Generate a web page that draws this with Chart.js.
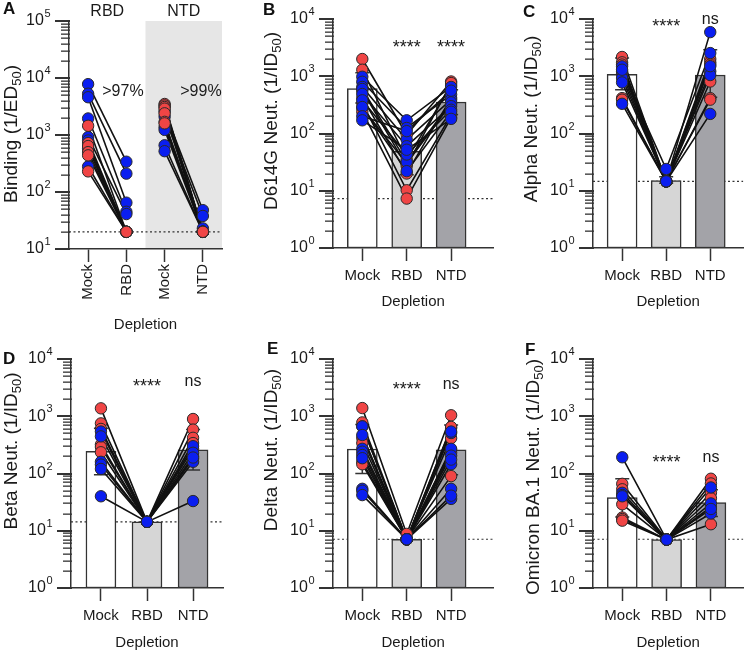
<!DOCTYPE html>
<html>
<head>
<meta charset="utf-8">
<script src="https://cdn.jsdelivr.net/npm/chart.js@4.4.1/dist/chart.umd.min.js"></script>
<style>
  body { margin: 0; background: #fff; }
  #figure { position: relative; width: 750px; height: 653px; overflow: hidden; font-family: "Liberation Sans", Arial, sans-serif; }
  #figure canvas { position: absolute; }
  .letter { position: absolute; font-weight: bold; font-size: 17px; line-height: 1; color: #111; }
</style>
</head>
<body>
<div id="figure">
  <canvas id="chart-a" width="250" height="345" style="left:0;top:0"></canvas>
  <canvas id="chart-b" width="250" height="330" style="left:250px;top:0"></canvas>
  <canvas id="chart-c" width="250" height="330" style="left:500px;top:0"></canvas>
  <canvas id="chart-d" width="250" height="323" style="left:0;top:330px"></canvas>
  <canvas id="chart-e" width="250" height="323" style="left:250px;top:330px"></canvas>
  <canvas id="chart-f" width="250" height="323" style="left:500px;top:330px"></canvas>
  <div class="letter" style="left:3px;top:0">A</div>
  <div class="letter" style="left:263px;top:1px">B</div>
  <div class="letter" style="left:523px;top:3px">C</div>
  <div class="letter" style="left:3px;top:350px">D</div>
  <div class="letter" style="left:267px;top:340px">E</div>
  <div class="letter" style="left:525px;top:341px">F</div>
</div>
<script>
// ---- data ----
// A: binding titers, mock vs depleted, two depletion experiments
const aCategories = ['Mock', 'RBD', 'Mock', 'NTD'];
const aRbdMock = [7800, 5300, 4600, 1950, 1450, 920, 800, 720, 640, 580, 500, 440, 280, 230];
const aRbdDepleted = [340, 210, 65, 45, 20, 41, 20, 20, 20, 20, 20, 20, 20, 20];
const aRbdGroup = ['b', 'b', 'b', 'b', 'r', 'b', 'b', 'r', 'r', 'b', 'r', 'r', 'b', 'r'];
const aNtdMock = [3500, 3300, 3100, 2900, 2600, 2400, 2100, 1700, 1600, 1370, 1230, 660, 520];
const aNtdDepleted = [20, 20, 20, 20, 48, 20, 38, 20, 20, 23, 20, 20, 20];
const aNtdGroup = ['r', 'r', 'r', 'r', 'b', 'r', 'b', 'r', 'r', 'b', 'b', 'b', 'b'];
const aLimit = 20;

const neutCategories = ['Mock', 'RBD', 'NTD'];

// B: D614G
const bMock = [2000, 1300, 980, 800, 650, 600, 560, 490, 420, 380, 340, 290, 280, 240, 200, 170];
const bRbd = [95, 35, 170, 125, 78, 32, 27, 60, 20, 43, 10.2, 22, 30, 7.3, 110, 52];
const bNtd = [810, 700, 650, 480, 390, 350, 760, 300, 420, 260, 210, 240, 330, 190, 560, 180];
const bGroup = ['r', 'r', 'b', 'b', 'b', 'b', 'r', 'b', 'r', 'b', 'r', 'b', 'r', 'r', 'b', 'b'];
const bMean = [610, 49, 355];
const bLow = [340, 19, 215];
const bHigh = [1150, 100, 580];
const bLimit = 7.3;

// C: Alpha
const cMock = [2170, 1750, 1600, 1100, 415, 390, 1490, 1220, 930, 780, 330, 1300];
const cRbd = [14.6, 14.6, 14.6, 14.6, 14.6, 14.6, 14.6, 24, 14.6, 14.6, 14.6, 14.6];
const cNtd = [2000, 1750, 1600, 810, 415, 390, 5900, 2540, 1220, 1050, 220, 1500];
const cGroup = ['r', 'r', 'r', 'r', 'r', 'r', 'b', 'b', 'b', 'b', 'b', 'b'];
const cMean = [1080, 15, 1050];
const cLow = [580, 13.5, 430];
const cHigh = [2080, 17.5, 2900];
const cLimit = 14.6;

// D: Beta
const dMock = [1375, 750, 600, 320, 290, 235, 540, 445, 160, 143, 120, 40];
const dRbd = [14.3, 14.3, 14.3, 14.3, 14.3, 14.3, 14.3, 14.3, 14.3, 14.3, 14.3, 14.3];
const dNtd = [895, 585, 270, 420, 340, 180, 300, 200, 160, 230, 190, 33];
const dGroup = ['r', 'r', 'r', 'r', 'r', 'r', 'b', 'b', 'b', 'b', 'b', 'b'];
const dMean = [245, 14.3, 258];
const dLow = [95, 14.3, 115];
const dHigh = [615, 14.3, 585];
const dLimit = 14.3;

// E: Delta
const eMock = [1390, 780, 665, 415, 340, 160, 145, 665, 470, 270, 240, 210, 185, 54, 50, 42];
const eRbd = [8.8, 7.1, 7.1, 7.1, 7.1, 7.1, 7.1, 7.1, 7.1, 7.1, 7.1, 7.1, 7.1, 7.1, 7.1, 7.1];
const eNtd = [1040, 620, 415, 650, 255, 230, 90, 510, 540, 270, 145, 205, 175, 54, 36, 41];
const eGroup = ['r', 'r', 'r', 'r', 'r', 'r', 'r', 'b', 'b', 'b', 'b', 'b', 'b', 'b', 'b', 'b'];
const eMean = [268, 7.1, 258];
const eLow = [100, 7.1, 95];
const eHigh = [720, 7.1, 700];
const eLimit = 7.1;

// F: Omicron BA.1
const fMock = [66, 53, 29, 17, 16, 15, 192, 46, 42, 40];
const fRbd = [7.0, 7.0, 7.0, 7.0, 7.0, 7.0, 7.0, 7.0, 7.0, 7.0];
const fNtd = [81, 67, 46, 37, 26, 13, 57, 30, 20, 24];
const fGroup = ['r', 'r', 'r', 'r', 'r', 'r', 'b', 'b', 'b', 'b'];
const fMean = [38, 7.0, 31];
const fLow = [17.4, 7.0, 17.8];
const fHigh = [81, 7.0, 52];
const fLimit = 7.1;

// ---- styling ----
const FONT = '"Liberation Sans", Arial, sans-serif';
const INK = '#1a1a1a';
const AXIS = '#333333';
const RED = '#f04545';
const BLUE = '#0a1ef0';
const BAR_FILLS = ['#ffffff', '#d6d6d6', '#a3a3a8'];

// draws shading, axis ticks, error bars, log labels, y titles with subscripts and the stat labels
const panelDecor = {
    id: 'panelDecor',
    beforeDraw(chart, args, o) {
        const { ctx, chartArea } = chart;
        const xs = chart.scales.x, ys = chart.scales.y;
        ctx.save();
        if (o.shade) {
            const x0 = xs.getPixelForValue(o.shade[0]);
            const x1 = xs.getPixelForValue(o.shade[1]);
            ctx.fillStyle = '#e6e6e6';
            ctx.fillRect(x0, chartArea.top, x1 - x0, chartArea.bottom - chartArea.top);
        }

        // log axis tick marks: long at decades, short in between
        const left = Math.round(chartArea.left);
        const lo = Math.round(Math.log10(o.yMin)), hi = Math.round(Math.log10(o.yMax));
        ctx.fillStyle = AXIS;
        for (let e = lo; e <= hi; e++) {
            const y = Math.round(ys.getPixelForValue(Math.pow(10, e)));
            ctx.fillRect(left - 14, y - 1, 15, 2);
            if (e === hi) continue;
            for (let k = 2; k <= 9; k++) {
                const ym = Math.round(ys.getPixelForValue(k * Math.pow(10, e)));
                ctx.fillRect(left - 8, ym - 0.5, 9, 1.3);
            }
        }
        ctx.restore();
    },
    afterDatasetDraw(chart, args, o) {
        if (args.meta.type !== 'bar' || !o.errLow) return;
        const { ctx } = chart;
        const xs = chart.scales.x, ys = chart.scales.y;
        ctx.save();
        ctx.strokeStyle = '#333';
        ctx.lineWidth = 1.5;
        o.errLow.forEach((lo, i) => {
            const hi = o.errHigh[i];
            if (hi <= lo) return;
            const x = xs.getPixelForValue(i);
            const yLo = ys.getPixelForValue(lo), yHi = ys.getPixelForValue(hi);
            ctx.beginPath();
            ctx.moveTo(x, yHi); ctx.lineTo(x, yLo);
            ctx.moveTo(x - 7, yHi); ctx.lineTo(x + 7, yHi);
            ctx.moveTo(x - 7, yLo); ctx.lineTo(x + 7, yLo);
            ctx.stroke();
        });
        ctx.restore();
    },
    afterDraw(chart, args, o) {
        const { ctx } = chart;
        const xs = chart.scales.x, ys = chart.scales.y;
        const left = Math.round(chart.chartArea.left);
        const lo = Math.round(Math.log10(o.yMin)), hi = Math.round(Math.log10(o.yMax));

        // "10^n" labels at decades
        ctx.save();
        ctx.textBaseline = 'middle';
        ctx.textAlign = 'left';
        ctx.fillStyle = INK;
        for (let e = lo; e <= hi; e++) {
            const y = ys.getPixelForValue(Math.pow(10, e));
            const base = '10', exp = String(e);
            ctx.font = '16px ' + FONT;
            const wb = ctx.measureText(base).width;
            ctx.font = '11px ' + FONT;
            const we = ctx.measureText(exp).width;
            const x0 = left - 19 - wb - we;
            ctx.font = '16px ' + FONT;
            ctx.fillText(base, x0, y);
            ctx.font = '11px ' + FONT;
            ctx.fillText(exp, x0 + wb + 0.5, y - 7);
        }
        ctx.restore();

        // y axis title, rotated, with a subscript part
        if (o.yTitle) {
            const size = 19;
            const big = size + 'px ' + FONT, small = Math.round(size * 0.68) + 'px ' + FONT;
            ctx.save();
            ctx.translate(o.yTitleAt[0], o.yTitleAt[1]);
            ctx.rotate(-Math.PI / 2);
            ctx.fillStyle = INK;
            ctx.textBaseline = 'middle';
            let total = 0;
            const widths = o.yTitle.map(p => {
                ctx.font = p.sub ? small : big;
                const w = ctx.measureText(p.t).width;
                total += w;
                return w;
            });
            let x = -total / 2;
            o.yTitle.forEach((p, i) => {
                ctx.font = p.sub ? small : big;
                ctx.fillText(p.t, x, p.sub ? size * 0.3 : 0);
                x += widths[i];
            });
            ctx.restore();
        }

        // stat labels placed on the data scales
        (o.notes || []).forEach(n => {
            ctx.save();
            ctx.font = n.size + 'px ' + FONT;
            ctx.fillStyle = INK;
            ctx.textAlign = 'center';
            ctx.textBaseline = 'alphabetic';
            ctx.fillText(n.text, xs.getPixelForValue(n.x), ys.getPixelForValue(n.y));
            ctx.restore();
        });
    }
};

function colorOf(g) {
    return g === 'r' ? RED : BLUE;
}

// p: settings for one panel
function buildPanel(canvasId, p) {
    const canvas = document.getElementById(canvasId);
    const W = canvas.width, H = canvas.height;
    const datasets = [];

    // dotted detection limit
    datasets.push({
        type: 'line',
        data: [{ x: p.xMin, y: p.limit }, { x: p.xMax, y: p.limit }],
        borderColor: '#333', borderWidth: 1.2, borderDash: [2, 2.5],
        pointRadius: 0, order: 30
    });

    if (p.means) {
        datasets.push({
            type: 'bar',
            data: p.means.map((m, i) => ({ x: i, y: [p.yMin, m] })),
            backgroundColor: BAR_FILLS,
            borderColor: AXIS, borderWidth: 1.5, borderSkipped: false,
            barThickness: 30, order: 20
        });
    }

    p.pairs.forEach(pair => {
        datasets.push({
            type: 'line', data: pair,
            borderColor: '#111', borderWidth: 1.6, tension: 0,
            pointRadius: 0, order: 10
        });
    });

    datasets.push({
        type: 'line', showLine: false, data: p.points,
        pointRadius: 5.7, pointBorderWidth: 1, pointBorderColor: '#2a2a2a',
        pointBackgroundColor: ctx => ctx.raw ? ctx.raw.c : BLUE,
        order: 0
    });

    return new Chart(canvas, {
        type: 'bar',
        data: { datasets: datasets },
        plugins: [panelDecor],
        options: {
            responsive: false,
            animation: false,
            events: [],
            layout: { padding: { left: 0, top: p.area.top, right: W - p.area.right, bottom: p.padBottom } },
            plugins: {
                legend: { display: false },
                tooltip: { enabled: false },
                panelDecor: {
                    shade: p.shade, errLow: p.low, errHigh: p.high, yMin: p.yMin, yMax: p.yMax,
                    yTitle: p.yTitle, yTitleAt: p.yTitleAt, notes: p.notes
                }
            },
            scales: {
                x: {
                    type: 'linear', min: p.xMin, max: p.xMax, offset: false,
                    afterBuildTicks: s => { s.ticks = p.cats.map((c, i) => ({ value: i })); },
                    afterFit: s => { s.height = H - p.padBottom - p.area.bottom; },
                    grid: { display: true, drawOnChartArea: false, drawTicks: true, offset: false,
                        tickLength: 13, tickWidth: 1.5, tickColor: AXIS },
                    border: { display: true, color: AXIS, width: 1.5 },
                    ticks: {
                        autoSkip: false, padding: p.tickPad, color: INK,
                        minRotation: p.rotate ? 90 : 0, maxRotation: p.rotate ? 90 : 0,
                        font: { family: FONT, size: 15 },
                        callback: v => p.cats[Math.round(v)]
                    },
                    title: { display: true, text: 'Depletion', color: INK,
                        font: { family: FONT, size: 15 }, padding: { top: 0, bottom: 0 } }
                },
                y: {
                    type: 'logarithmic', min: p.yMin, max: p.yMax,
                    afterFit: s => { s.width = p.area.left; },
                    grid: { display: false },
                    border: { display: true, color: AXIS, width: 1.5 },
                    ticks: { display: false }
                }
            }
        }
    });
}

// builds donor lines and dots for a 3-column neutralisation panel
function neutPairs(mock, rbd, ntd) {
    return mock.map((m, i) => [{ x: 0, y: m }, { x: 1, y: rbd[i] }, { x: 2, y: ntd[i] }]);
}

function neutPoints(mock, rbd, ntd, group) {
    const pts = [];
    // red donors first, blue drawn on top
    ['r', 'b'].forEach(g => {
        group.forEach((gg, i) => {
            if (gg !== g) return;
            pts.push({ x: 0, y: mock[i], c: colorOf(g) });
            pts.push({ x: 1, y: rbd[i], c: colorOf(g) });
            pts.push({ x: 2, y: ntd[i], c: colorOf(g) });
        });
    });
    return pts;
}

function titleParts(prefix) {
    return [{ t: prefix }, { t: '50', sub: true }, { t: ')' }];
}

// ---- panel A ----
const aPairs = aRbdMock.map((m, i) => [{ x: 0, y: m }, { x: 1, y: aRbdDepleted[i] }])
    .concat(aNtdMock.map((m, i) => [{ x: 2, y: m }, { x: 3, y: aNtdDepleted[i] }]));
const aPoints = [];
['b', 'r'].forEach(g => {
    aRbdGroup.forEach((gg, i) => {
        if (gg !== g) return;
        aPoints.push({ x: 0, y: aRbdMock[i], c: colorOf(g) }, { x: 1, y: aRbdDepleted[i], c: colorOf(g) });
    });
    aNtdGroup.forEach((gg, i) => {
        if (gg !== g) return;
        aPoints.push({ x: 2, y: aNtdMock[i], c: colorOf(g) }, { x: 3, y: aNtdDepleted[i], c: colorOf(g) });
    });
});

buildPanel('chart-a', {
    cats: aCategories, xMin: -0.5, xMax: 3.5, yMin: 10, yMax: 1e5,
    area: { left: 69, top: 21, right: 222, bottom: 249 }, padBottom: 11, tickPad: 2, rotate: true,
    limit: aLimit, pairs: aPairs, points: aPoints, shade: [1.5, 3.5],
    yTitle: titleParts('Binding (1/ED'), yTitleAt: [12, 134],
    notes: [
        { x: 0.5, y: 122000, text: 'RBD', size: 16 },
        { x: 2.5, y: 122000, text: 'NTD', size: 16 },
        { x: 0.91, y: 4830, text: '>97%', size: 16 },
        { x: 2.95, y: 4830, text: '>99%', size: 16 }
    ]
});

// ---- panels B-F ----
buildPanel('chart-b', {
    cats: neutCategories, xMin: -0.66, xMax: 2.95, yMin: 1, yMax: 1e4,
    area: { left: 83, top: 19, right: 247, bottom: 248 }, padBottom: 19, tickPad: 6,
    limit: bLimit, means: bMean, low: bLow, high: bHigh,
    pairs: neutPairs(bMock, bRbd, bNtd), points: neutPoints(bMock, bRbd, bNtd, bGroup),
    yTitle: titleParts('D614G Neut. (1/ID'), yTitleAt: [22, 121],
    notes: [
        { x: 1, y: 2550, text: '****', size: 18 },
        { x: 2, y: 2550, text: '****', size: 18 }
    ]
});

buildPanel('chart-c', {
    cats: neutCategories, xMin: -0.66, xMax: 2.75, yMin: 1, yMax: 1e4,
    area: { left: 93, top: 19, right: 248, bottom: 248 }, padBottom: 19, tickPad: 6,
    limit: cLimit, means: cMean, low: cLow, high: cHigh,
    pairs: neutPairs(cMock, cRbd, cNtd), points: neutPoints(cMock, cRbd, cNtd, cGroup),
    yTitle: titleParts('Alpha Neut. (1/ID'), yTitleAt: [32, 119],
    notes: [
        { x: 1, y: 5930, text: '****', size: 18 },
        { x: 2, y: 8180, text: 'ns', size: 16 }
    ]
});

buildPanel('chart-d', {
    cats: neutCategories, xMin: -0.65, xMax: 2.65, yMin: 1, yMax: 1e4,
    area: { left: 71, top: 29, right: 223, bottom: 258 }, padBottom: 1, tickPad: 6,
    limit: dLimit, means: dMean, low: dLow, high: dHigh,
    pairs: neutPairs(dMock, dRbd, dNtd), points: neutPoints(dMock, dRbd, dNtd, dGroup),
    yTitle: titleParts('Beta Neut. (1/ID'), yTitleAt: [12, 121],
    notes: [
        { x: 1, y: 2650, text: '****', size: 18 },
        { x: 2, y: 3380, text: 'ns', size: 16 }
    ]
});

buildPanel('chart-e', {
    cats: neutCategories, xMin: -0.66, xMax: 2.95, yMin: 1, yMax: 1e4,
    area: { left: 83, top: 29, right: 247, bottom: 258 }, padBottom: 1, tickPad: 6,
    limit: eLimit, means: eMean, low: eLow, high: eHigh,
    pairs: neutPairs(eMock, eRbd, eNtd), points: neutPoints(eMock, eRbd, eNtd, eGroup),
    yTitle: titleParts('Delta Neut. (1/ID'), yTitleAt: [22, 120],
    notes: [
        { x: 1, y: 2350, text: '****', size: 18 },
        { x: 2, y: 2990, text: 'ns', size: 16 }
    ]
});

buildPanel('chart-f', {
    cats: neutCategories, xMin: -0.66, xMax: 2.73, yMin: 1, yMax: 1e4,
    area: { left: 93, top: 29, right: 247, bottom: 258 }, padBottom: 1, tickPad: 6,
    limit: fLimit, means: fMean, low: fLow, high: fHigh,
    pairs: neutPairs(fMock, fRbd, fNtd), points: neutPoints(fMock, fRbd, fNtd, fGroup),
    yTitle: titleParts('Omicron BA.1 Neut. (1/ID'), yTitleAt: [34, 147],
    notes: [
        { x: 1, y: 125, text: '****', size: 18 },
        { x: 2, y: 159, text: 'ns', size: 16 }
    ]
});
</script>
</body>
</html>
